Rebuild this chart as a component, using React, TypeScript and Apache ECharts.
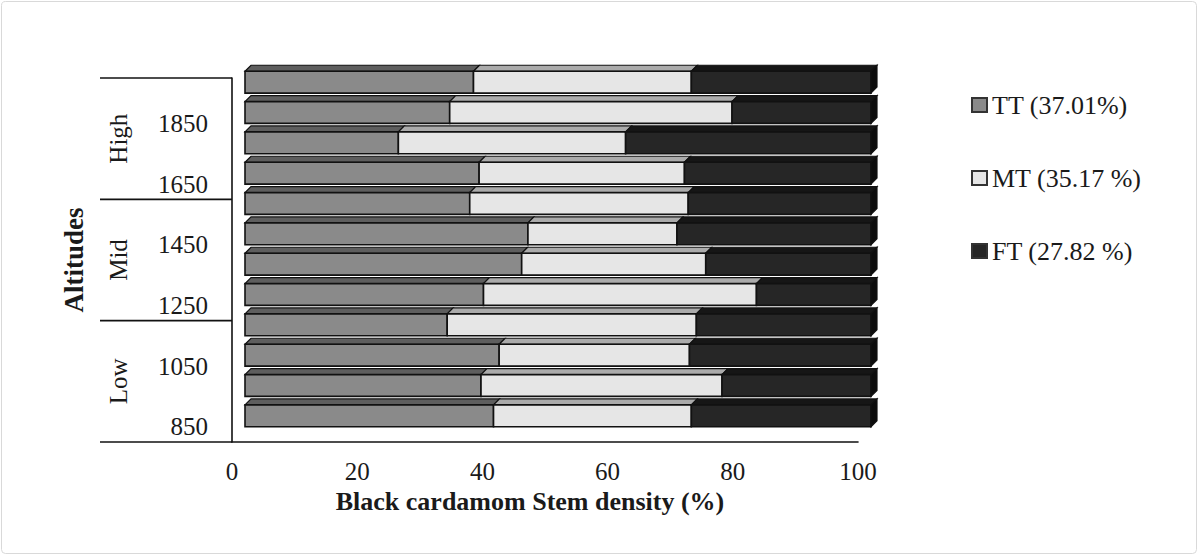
import React, { useEffect, useRef } from "react";
import * as echarts from "echarts";

// Altitude categories, bottom to top (every other one is labelled on the axis)
const altitudes = ["850", "950", "1050", "1150", "1250", "1350", "1450", "1550", "1650", "1750", "1850", "1950"];
const groups = ["Low", "Mid", "High"];
const groupSize = 4;
const seriesNames = ["TT (37.01%)", "MT (35.17 %)", "FT (27.82 %)"];

// Stem density shares (%), bottom bar first
const tt = [39.7, 37.7, 40.6, 32.3, 38.1, 44.2, 45.2, 35.9, 37.4, 24.5, 32.7, 36.5];
const mt = [31.6, 38.5, 30.4, 39.8, 43.6, 29.4, 23.8, 34.9, 32.8, 36.3, 45.1, 34.8];
const ft = [28.7, 23.8, 29.0, 27.9, 18.3, 26.4, 31.0, 29.2, 29.8, 39.2, 22.2, 28.7];

const xMin = 0;
const xMax = 100;
const xStep = 20;

const xTitle = "Black cardamom Stem density (%)";
const yTitle = "Altitudes";

const FONT = "'Liberation Serif', 'Times New Roman', serif";
const INK = "#1a1a1a";

const palette = [
  { front: "#8a8a8a", top: "#5e5e5e", side: "#3a3a3a" },
  { front: "#e6e6e6", top: "#ababab", side: "#8a8a8a" },
  { front: "#262626", top: "#161616", side: "#0c0c0c" },
];

function makeRender(colors: { front: string; top: string; side: string }, drawSide: boolean) {
  return (params: any, api: any) => {
    const s = api.value(0);
    const e = api.value(1);
    const idx = api.value(2);
    const a = api.coord([s, idx]);
    const b = api.coord([e, idx]);
    const band = api.size([0, 1])[1];
    const h = band * 0.72;
    const ox = 13;
    const oy = -11;
    const dx = 6;
    const dy = 6;
    const x0 = a[0] + ox;
    const x1 = b[0] + ox;
    const yc = a[1] + oy;
    const yt = yc - h / 2;
    const yb = yc + h / 2;
    const children: any[] = [
      {
        type: "polygon",
        shape: { points: [[x0, yt], [x1, yt], [x1 + dx, yt - dy], [x0 + dx, yt - dy]] },
        style: { fill: colors.top, stroke: "#111", lineWidth: 1.2 },
      },
      {
        type: "rect",
        shape: { x: x0, y: yt, width: x1 - x0, height: h },
        style: { fill: colors.front, stroke: "#111", lineWidth: 1.6 },
      },
    ];
    if (drawSide) {
      children.push({
        type: "polygon",
        shape: { points: [[x1, yt], [x1 + dx, yt - dy], [x1 + dx, yb - dy], [x1, yb]] },
        style: { fill: colors.side, stroke: "#111", lineWidth: 1.2 },
      });
    }
    return { type: "group", children };
  };
}

export default function App() {
  const ref = useRef<HTMLDivElement>(null);

  useEffect(() => {
    if (!ref.current) return;
    const chart = echarts.init(ref.current, null, { renderer: "svg" });

    const all = [tt, mt, ft];
    const seriesData = all.map((arr, si) =>
      arr.map((v, i) => {
        let start = 0;
        for (let k = 0; k < si; k++) start += all[k][i];
        return [start, start + v, i];
      })
    );

    chart.setOption({
      animation: false,
      backgroundColor: "#ffffff",
      grid: { left: 232, right: 340, top: 78, bottom: 113, containLabel: false },
      xAxis: {
        type: "value",
        min: xMin,
        max: xMax,
        interval: xStep,
        axisLine: { show: true, lineStyle: { color: "#111", width: 1.6 } },
        axisTick: { show: false },
        splitLine: { show: false },
        axisLabel: { fontFamily: FONT, fontSize: 25, color: INK, margin: 17 },
      },
      yAxis: {
        type: "category",
        data: altitudes,
        axisLine: { show: true, lineStyle: { color: "#111", width: 1.6 } },
        axisTick: { show: false },
        axisLabel: { interval: 1, fontFamily: FONT, fontSize: 25, color: INK, margin: 24 },
        splitLine: { show: false },
      },
      legend: {
        orient: "vertical",
        left: 966,
        top: 85,
        icon: "rect",
        itemWidth: 15,
        itemHeight: 14,
        itemGap: 43,
        data: seriesNames,
        textStyle: { fontFamily: FONT, fontSize: 26, color: INK, lineHeight: 30 },
      },
      series: seriesNames.map((name, si) => ({
        type: "custom",
        name,
        renderItem: makeRender(palette[si], si === seriesNames.length - 1),
        encode: { x: [0, 1], y: 2 },
        itemStyle: { color: palette[si].front, borderColor: "#333", borderWidth: 1 },
        data: seriesData[si],
      })),
    });

    const yOf = (i: number) => chart.convertToPixel({ yAxisIndex: 0 }, i) as number;
    const xOf = (v: number) => chart.convertToPixel({ xAxisIndex: 0 }, v) as number;
    const band = yOf(0) - yOf(1);
    const axisX = xOf(xMin);
    const sepLeft = 100;
    const graphics: any[] = [
      {
        type: "rect",
        shape: { x: 1.5, y: 1.5, width: 1195, height: 552, r: 4 },
        style: { fill: "none", stroke: "#d9d9d9", lineWidth: 1 },
        silent: true,
      },
    ];
    const boundaries: number[] = [];
    for (let g = 0; g < groups.length; g++) {
      const bottom = yOf(g * groupSize) + band / 2;
      const top = yOf(g * groupSize + groupSize - 1) - band / 2;
      if (g === 0) boundaries.push(bottom);
      boundaries.push(top);
      graphics.push({
        type: "text",
        x: 118,
        y: (bottom + top) / 2,
        rotation: Math.PI / 2,
        style: {
          text: groups[g],
          fontFamily: FONT,
          fontSize: 25,
          fill: INK,
          align: "center",
          verticalAlign: "middle",
        },
      });
    }
    boundaries.forEach((y) => {
      graphics.push({
        type: "line",
        shape: { x1: sepLeft, y1: y, x2: axisX, y2: y },
        style: { stroke: "#111", lineWidth: 1.6 },
      });
    });
    graphics.push({
      type: "text",
      x: 74,
      y: (yOf(0) + yOf(altitudes.length - 1)) / 2,
      rotation: Math.PI / 2,
      style: {
        text: yTitle,
        fontFamily: FONT,
        fontWeight: "bold",
        fontSize: 27,
        fill: INK,
        align: "center",
        verticalAlign: "middle",
      },
    });
    graphics.push({
      type: "text",
      x: 530,
      y: 501,
      style: {
        text: xTitle,
        fontFamily: FONT,
        fontWeight: "bold",
        fontSize: 26,
        fill: INK,
        align: "center",
        verticalAlign: "middle",
      },
    });
    chart.setOption({ graphic: graphics });

    return () => chart.dispose();
  }, []);

  return (
    <div
      ref={ref}
      style={{ position: "absolute", left: 0, top: 0, width: 1198, height: 555, background: "#fff" }}
    />
  );
}
